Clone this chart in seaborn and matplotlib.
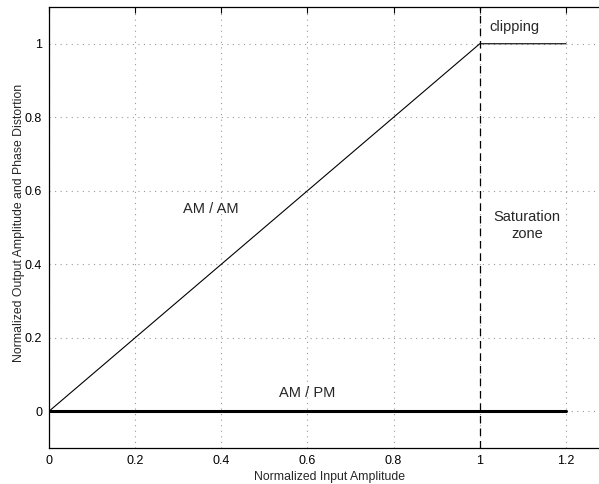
import matplotlib
matplotlib.use("Agg")
import matplotlib.pyplot as plt
import seaborn as sns
import pandas as pd

# Transfer characteristics of a hard-limiting amplifier
amam_in = [0.0, 1.0, 1.2]
amam_out = [0.0, 1.0, 1.0]
ampm_in = [0.0, 1.2]
ampm_out = [0.0, 0.0]
saturation_point = 1.0

x_ticks = [0, 0.2, 0.4, 0.6, 0.8, 1, 1.2]
x_tick_labels = ["0", "0.2", "0.4", "0.6", "0.8", "1", "1.2"]
y_ticks = [0, 0.2, 0.4, 0.6, 0.8, 1]
y_tick_labels = ["0", "0.2", "0.4", "0.6", "0.8", "1"]

sns.set_style("white")
plt.rcParams["font.family"] = ["Liberation Sans", "DejaVu Sans"]

fig = plt.figure(figsize=(5.99, 4.84), dpi=100)
ax = fig.add_axes([49 / 599, 36 / 484, 560 / 599, 441 / 484])

amam = pd.DataFrame({"x": amam_in, "y": amam_out})
ampm = pd.DataFrame({"x": ampm_in, "y": ampm_out})

sns.lineplot(data=amam, x="x", y="y", ax=ax, color="black", linewidth=0.8,
             sort=False, estimator=None)
sns.lineplot(data=ampm, x="x", y="y", ax=ax, color="black", linewidth=2.2,
             sort=False, estimator=None)
ax.axvline(saturation_point, color="black", linewidth=0.9, linestyle=(0, (6, 4)))

ax.set_xlim(0, 1.3)
ax.set_ylim(-0.1, 1.1)
ax.set_xticks(x_ticks)
ax.set_xticklabels(x_tick_labels)
ax.set_yticks(y_ticks)
ax.set_yticklabels(y_tick_labels)

ax.grid(True, color="#999999", linestyle=(0, (1, 4)), linewidth=0.8)
ax.tick_params(direction="in", length=4, width=0.8, labelsize=9,
               top=True, right=True, colors="black", pad=5)
for s in ax.spines.values():
    s.set_color("black")
    s.set_linewidth(0.9)

ax.set_xlabel("Normalized Input Amplitude", fontsize=8.8, labelpad=3)
ax.set_ylabel("Normalized Output Amplitude and Phase Distortion", fontsize=8.8)
ax.yaxis.set_label_coords(-0.043, 0.51)

ax.text(1.08, 1.045, "clipping", fontsize=10.5, ha="center", va="center")
ax.text(1.11, 0.505, "Saturation\nzone", fontsize=10.5, ha="center", va="center",
        linespacing=1.3)
ax.text(0.375, 0.55, "AM / AM", fontsize=10.5, ha="center", va="center")
ax.text(0.60, 0.05, "AM / PM", fontsize=10.5, ha="center", va="center")

fig.savefig("out.png", dpi=100)
